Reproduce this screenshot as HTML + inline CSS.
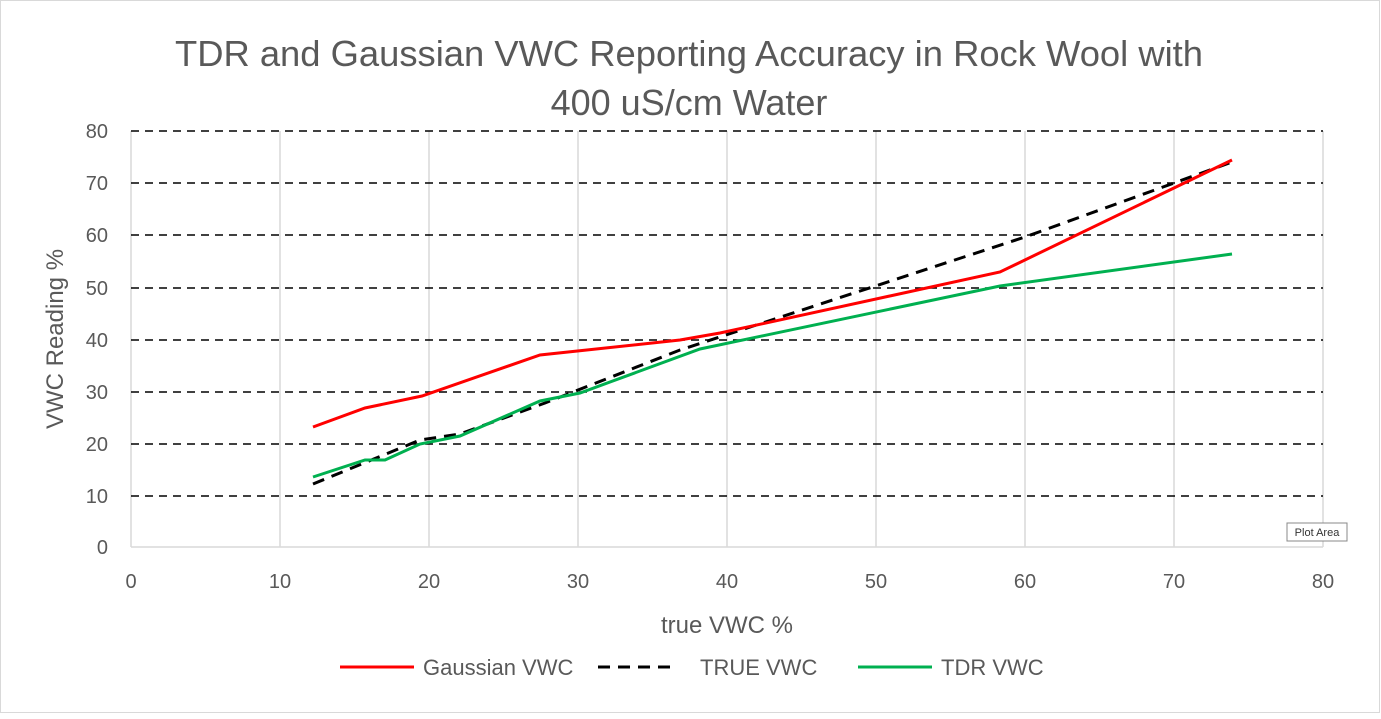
<!DOCTYPE html>
<html><head><style>
body{margin:0;background:#fff;font-family:"Liberation Sans",sans-serif}
</style></head><body>
<svg width="1381" height="714" xmlns="http://www.w3.org/2000/svg" font-family="Liberation Sans, sans-serif">
<rect x="0.5" y="0.5" width="1379" height="712" fill="#fff" stroke="#d9d9d9"/>
<text x="689" y="66" font-size="36" fill="#595959" text-anchor="middle" textLength="1028" lengthAdjust="spacingAndGlyphs">TDR and Gaussian VWC Reporting Accuracy in Rock Wool with</text>
<text x="689" y="115" font-size="36" fill="#595959" text-anchor="middle">400 uS/cm Water</text>
<g stroke="#d9d9d9" stroke-width="1.5">
<line x1="280" y1="131" x2="280" y2="547"/><line x1="429" y1="131" x2="429" y2="547"/>
<line x1="578" y1="131" x2="578" y2="547"/><line x1="727" y1="131" x2="727" y2="547"/>
<line x1="876" y1="131" x2="876" y2="547"/><line x1="1025" y1="131" x2="1025" y2="547"/>
<line x1="1174" y1="131" x2="1174" y2="547"/><line x1="1323" y1="131" x2="1323" y2="547"/>
<line x1="131" y1="131" x2="131" y2="547"/>
</g>
<g stroke="#000" stroke-width="1.5" stroke-dasharray="8,6">
<line x1="131" y1="131" x2="1323" y2="131"/><line x1="131" y1="183" x2="1323" y2="183"/>
<line x1="131" y1="235" x2="1323" y2="235"/><line x1="131" y1="288" x2="1323" y2="288"/>
<line x1="131" y1="340" x2="1323" y2="340"/><line x1="131" y1="392" x2="1323" y2="392"/>
<line x1="131" y1="444" x2="1323" y2="444"/><line x1="131" y1="496" x2="1323" y2="496"/>
</g>
<line x1="131" y1="547" x2="1323" y2="547" stroke="#d9d9d9" stroke-width="1.5"/>
<g font-size="20" fill="#595959" text-anchor="end">
<text x="108" y="138">80</text><text x="108" y="190">70</text><text x="108" y="242">60</text>
<text x="108" y="295">50</text><text x="108" y="347">40</text><text x="108" y="399">30</text>
<text x="108" y="451">20</text><text x="108" y="503">10</text><text x="108" y="554">0</text>
</g>
<g font-size="20" fill="#595959" text-anchor="middle">
<text x="131" y="588">0</text><text x="280" y="588">10</text><text x="429" y="588">20</text>
<text x="578" y="588">30</text><text x="727" y="588">40</text><text x="876" y="588">50</text>
<text x="1025" y="588">60</text><text x="1174" y="588">70</text><text x="1323" y="588">80</text>
</g>
<text x="727" y="633" font-size="24" fill="#595959" text-anchor="middle">true VWC %</text>
<text transform="translate(63,339) rotate(-90)" font-size="24" fill="#595959" text-anchor="middle">VWC Reading %</text>
<polyline fill="none" stroke="#000" stroke-width="3" stroke-dasharray="12,8" points="313,484 420,440 460,434 545,403 680,350 1025,237 1232,162"/>
<polyline fill="none" stroke="#ff0000" stroke-width="3" points="313,427 365,408 422,396 540,355 680,340 720,333 1000,272 1232,160"/>
<polyline fill="none" stroke="#00b050" stroke-width="3" points="313,477 365,460 385,460 420,444 460,436 540,401 580,393 700,349 1000,286 1232,254"/>
<rect x="1287" y="523" width="60" height="18" fill="#fff" stroke="#888"/>
<text x="1317" y="536" font-size="11" fill="#333" text-anchor="middle">Plot Area</text>
<line x1="340" y1="667" x2="414" y2="667" stroke="#ff0000" stroke-width="3"/>
<text x="423" y="675" font-size="22" fill="#595959">Gaussian VWC</text>
<line x1="598" y1="667" x2="672" y2="667" stroke="#000" stroke-width="3" stroke-dasharray="12,8"/>
<text x="700" y="675" font-size="22" fill="#595959">TRUE VWC</text>
<line x1="858" y1="667" x2="932" y2="667" stroke="#00b050" stroke-width="3"/>
<text x="941" y="675" font-size="22" fill="#595959">TDR VWC</text>
</svg>
</body></html>
